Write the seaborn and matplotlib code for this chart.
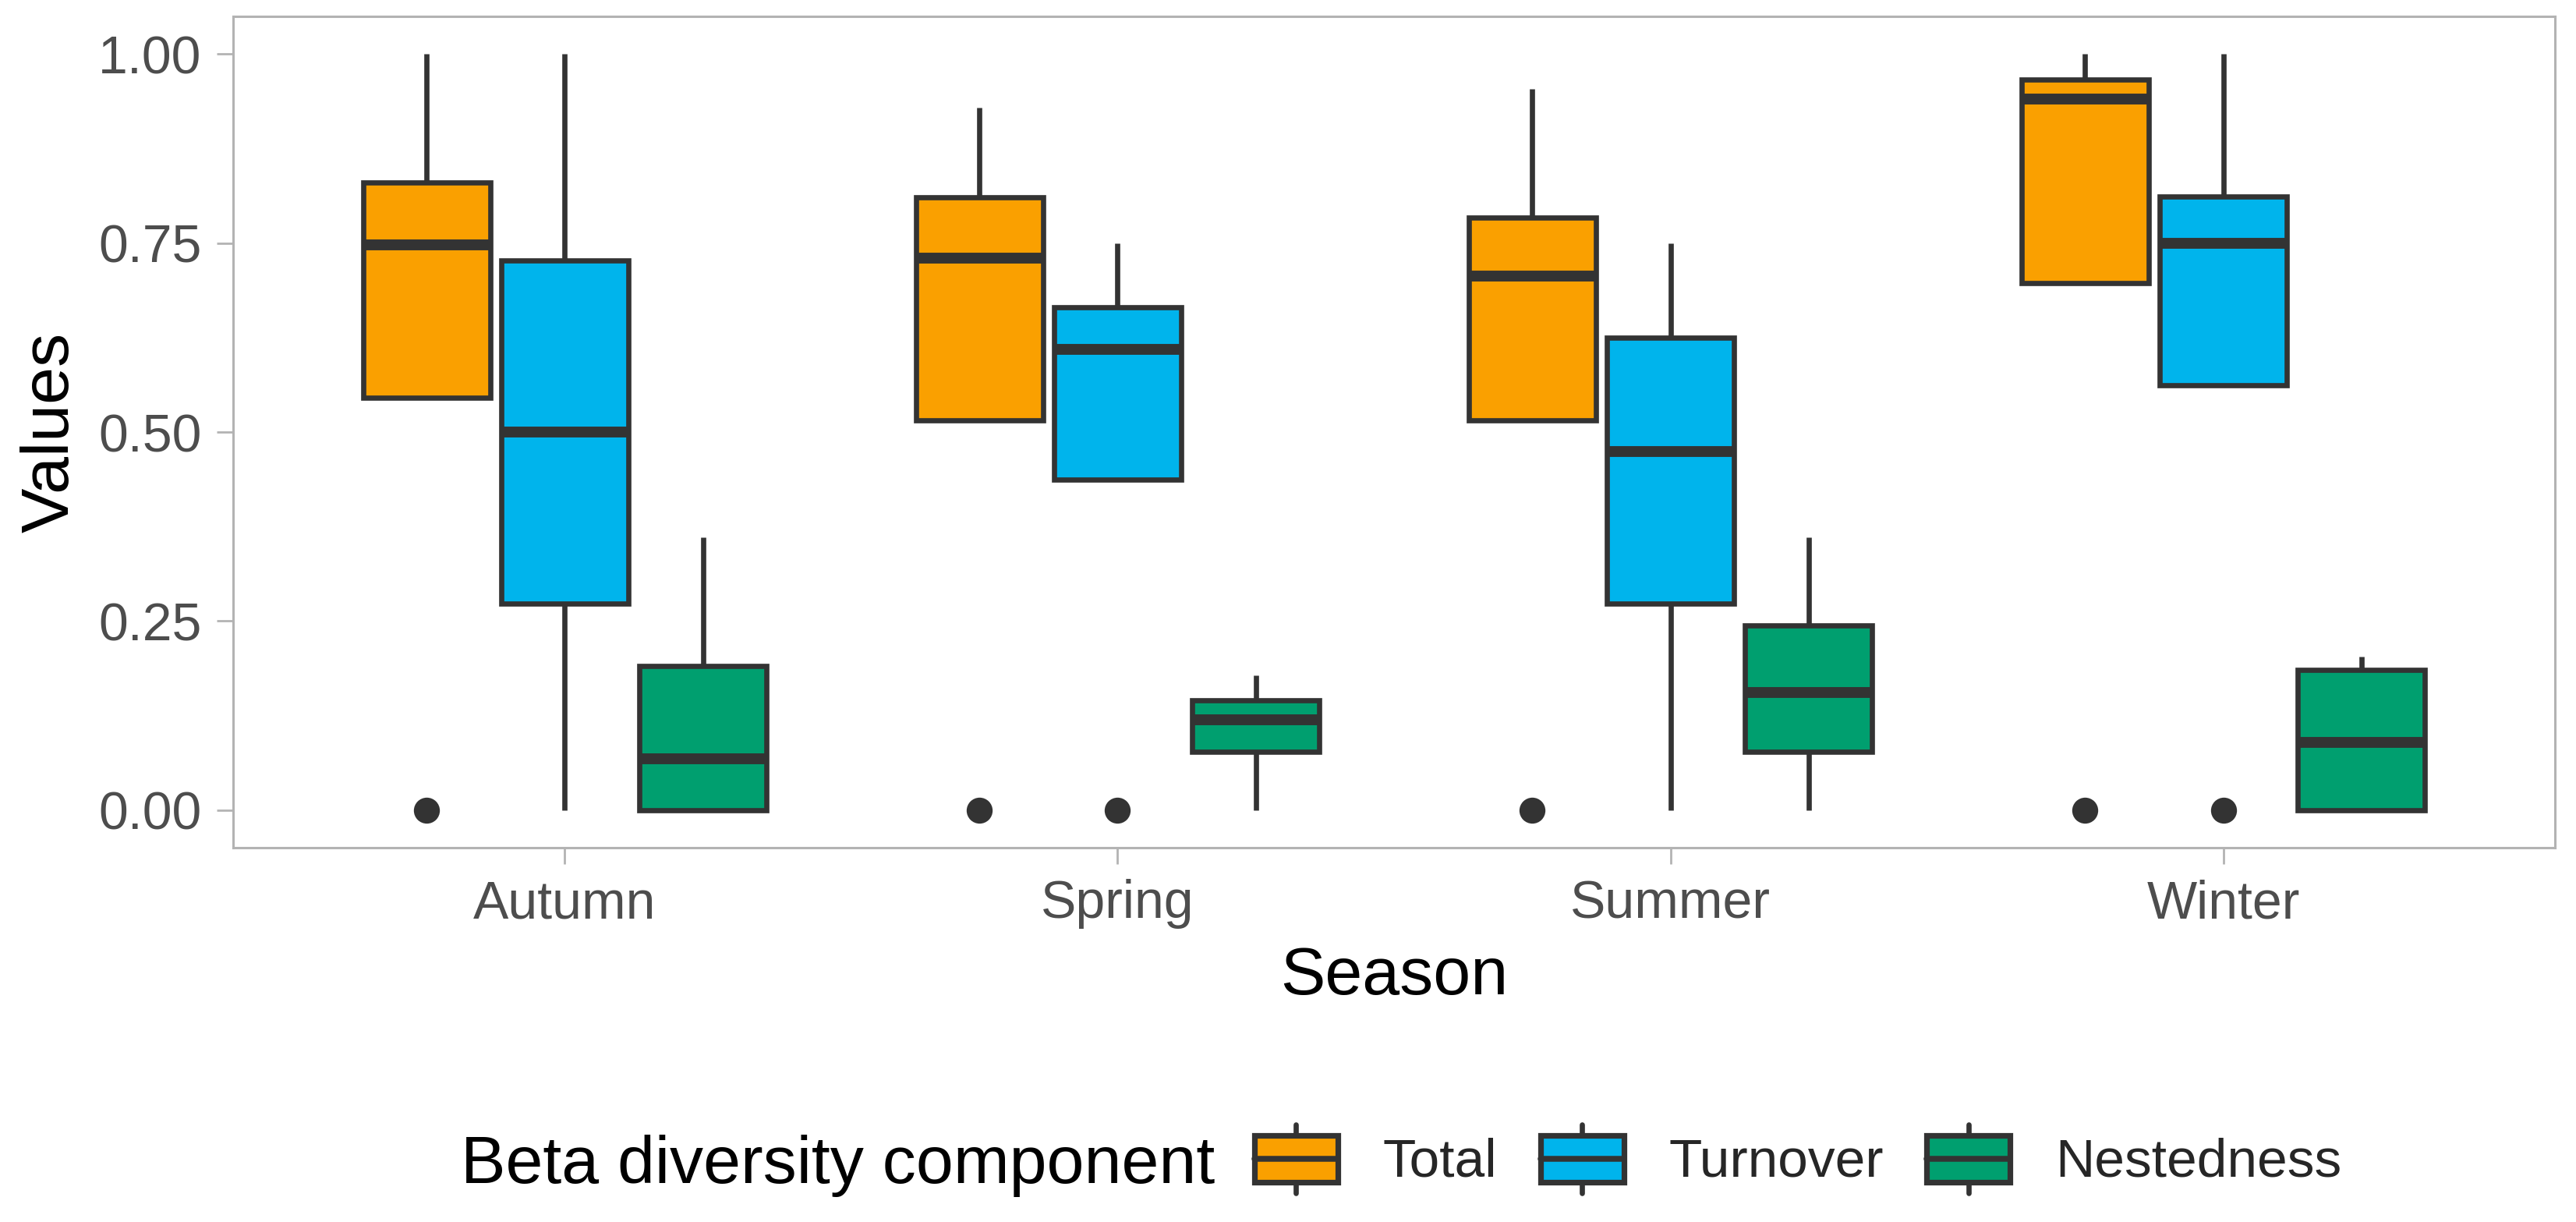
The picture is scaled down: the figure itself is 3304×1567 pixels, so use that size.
import numpy as np
import pandas as pd
import matplotlib
matplotlib.use("Agg")
import matplotlib.pyplot as plt
from matplotlib.patches import Rectangle, Patch
from matplotlib.lines import Line2D
from matplotlib.legend_handler import HandlerBase
import seaborn as sns

# ---------------- data ----------------
seasons = ["Autumn", "Spring", "Summer", "Winter"]
components = ["Total", "Turnover", "Nestedness"]
colors = ["#FAA000", "#00B4EC", "#009F6F"]

# box statistics per component, one value per season (Autumn, Spring, Summer, Winter)
total_low = [0.545, 0.515, 0.515, 0.697]
total_q1 = [0.545, 0.515, 0.515, 0.697]
total_med = [0.748, 0.730, 0.706, 0.941]
total_q3 = [0.830, 0.811, 0.784, 0.966]
total_high = [1.000, 0.929, 0.954, 1.000]

turn_low = [0.000, 0.437, 0.000, 0.562]
turn_q1 = [0.273, 0.437, 0.273, 0.562]
turn_med = [0.500, 0.609, 0.474, 0.750]
turn_q3 = [0.727, 0.665, 0.625, 0.812]
turn_high = [1.000, 0.750, 0.750, 1.000]

nest_low = [0.000, 0.000, 0.000, 0.000]
nest_q1 = [0.000, 0.077, 0.077, 0.000]
nest_med = [0.068, 0.119, 0.155, 0.089]
nest_q3 = [0.190, 0.145, 0.244, 0.185]
nest_high = [0.361, 0.178, 0.361, 0.203]

# outliers: (season, component, value)
outlier_season = ["Autumn", "Spring", "Spring", "Summer", "Winter", "Winter"]
outlier_component = ["Total", "Total", "Turnover", "Total", "Total", "Turnover"]
outlier_value = [0.0, 0.0, 0.0, 0.0, 0.0, 0.0]

stats = {
    "Total": [total_low, total_q1, total_med, total_q3, total_high],
    "Turnover": [turn_low, turn_q1, turn_med, turn_q3, turn_high],
    "Nestedness": [nest_low, nest_q1, nest_med, nest_q3, nest_high],
}

rows = []
for comp in components:
    for i, s in enumerate(seasons):
        for arr in stats[comp]:
            rows.append({"Season": s, "Component": comp, "Values": arr[i]})
df = pd.DataFrame(rows)
out_df = pd.DataFrame({"Season": outlier_season, "Component": outlier_component,
                       "Values": outlier_value})

# ---------------- style ----------------
sns.set_style("white")
plt.rcParams["font.family"] = ["Liberation Sans", "DejaVu Sans"]

EDGE = "#333333"
GRID = "#B3B3B3"
W, H, DPI = 3304, 1567, 200
fig = plt.figure(figsize=(W / DPI, H / DPI), dpi=DPI)
ax = fig.add_axes([299 / W, 1 - 1087 / H, (3277 - 299) / W, (1087 - 21) / H])

palette = dict(zip(components, colors))
sns.boxplot(data=df, x="Season", y="Values", hue="Component",
            order=seasons, hue_order=components, palette=palette,
            width=0.75, gap=0.08, whis=(0, 100), showfliers=False,
            saturation=1, linewidth=2.4, linecolor=EDGE,
            medianprops=dict(linewidth=5.0, color=EDGE),
            whiskerprops=dict(linewidth=2.4, color=EDGE),
            capprops=dict(linewidth=0),
            legend=False, ax=ax)

sns.pointplot(data=out_df, x="Season", y="Values", hue="Component",
              order=seasons, hue_order=components,
              palette={c: EDGE for c in components},
              dodge=0.5, linestyle="none", markers="o", errorbar=None,
              markersize=12, markeredgewidth=0, legend=False, ax=ax)

ax.set_xlim(-0.6, 3.6)
ax.set_ylim(-0.05, 1.05)
ax.set_yticks([0, 0.25, 0.5, 0.75, 1.0])
ax.set_yticklabels(["0.00", "0.25", "0.50", "0.75", "1.00"])
ax.set_xticks(range(len(seasons)))
ax.set_xticklabels(seasons)

for sp in ax.spines.values():
    sp.set_visible(True)
    sp.set_color(GRID)
    sp.set_linewidth(1.1)
ax.grid(False)
ax.tick_params(axis="both", which="major", length=7.5, width=1.0, color=GRID,
               labelsize=24.5, labelcolor="#4D4D4D", pad=7, direction="out",
               bottom=True, left=True)

ax.set_xlabel("Season", fontsize=31, color="black")
ax.set_ylabel("Values", fontsize=31, color="black")
ax.xaxis.set_label_coords(0.5, -(1213 - 1087) / 1066)
ax.yaxis.set_label_coords((106 - 299) / 2978, 0.5)

# ---------------- legend ----------------
class BoxKey(HandlerBase):
    def create_artists(self, legend, orig_handle, xdescent, ydescent,
                       width, height, fontsize, trans):
        fc = orig_handle.get_facecolor()
        x0 = -xdescent
        y0 = -ydescent
        bh = height * 0.69
        by = y0 + (height - bh) / 2
        cx = x0 + width / 2
        wl = Line2D([cx, cx], [y0, by], color=EDGE, linewidth=2.4, transform=trans)
        wh = Line2D([cx, cx], [by + bh, y0 + height], color=EDGE, linewidth=2.4,
                    transform=trans)
        rect = Rectangle((x0, by), width, bh, facecolor=fc, edgecolor=EDGE,
                         linewidth=2.6, transform=trans)
        med = Line2D([x0, x0 + width], [by + bh / 2] * 2, color=EDGE,
                     linewidth=2.7, transform=trans)
        return [wl, wh, rect, med]

handles = [Patch(facecolor=c, edgecolor=EDGE) for c in colors]
fig.text(591 / W, (H - 1517) / H, "Beta diversity component", fontsize=31,
         ha="left", va="baseline", color="black")
fig.legend(handles, components, handler_map={Patch: BoxKey()},
           loc="center left", bbox_to_anchor=(1609 / W, 1 - 1486 / H),
           ncol=3, frameon=False, fontsize=25, borderpad=0, borderaxespad=0,
           handlelength=1.54, handleheight=1.56, handletextpad=0.83,
           columnspacing=0.80)

fig.savefig("out.png", dpi=DPI)
